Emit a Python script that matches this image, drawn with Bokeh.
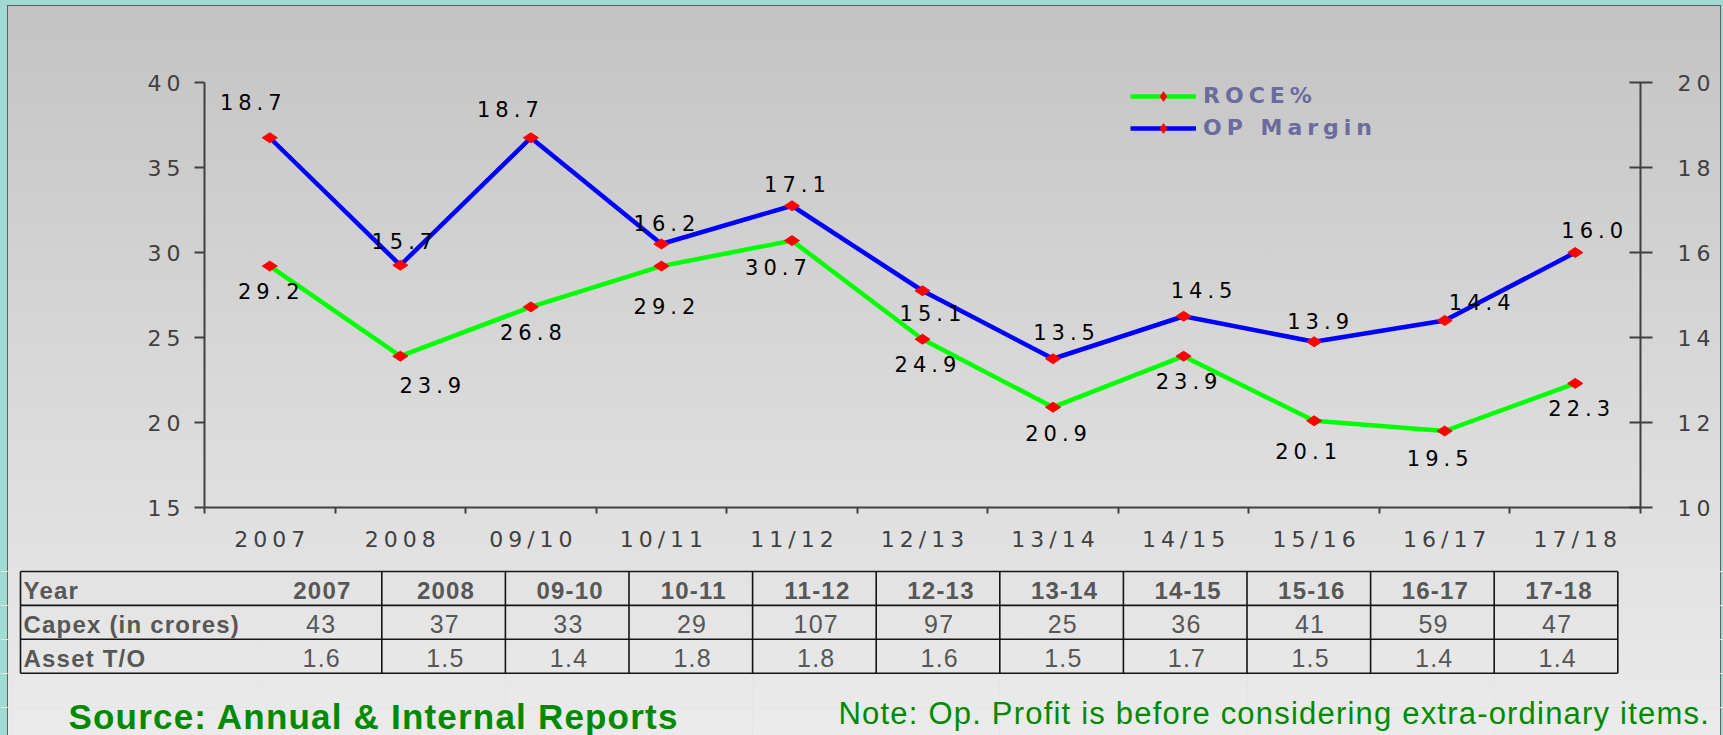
import numpy as np
from bokeh.plotting import figure
from bokeh.models import (Range1d, LinearAxis, FixedTicker, CustomJSTickFormatter,
                          ColumnDataSource, Legend, LegendItem, Label)
from bokeh.layouts import column
from bokeh.core.properties import value
from bokeh.embed import file_html
from bokeh.resources import INLINE

# ---------------- data ----------------
categories = ["2007", "2008", "09/10", "10/11", "11/12", "12/13",
              "13/14", "14/15", "15/16", "16/17", "17/18"]
roce = [29.2, 23.9, 26.8, 29.2, 30.7, 24.9, 20.9, 23.9, 20.1, 19.5, 22.3]
op_margin = [18.7, 15.7, 18.7, 16.2, 17.1, 15.1, 13.5, 14.5, 13.9, 14.4, 16.0]
left_ticks = [15, 20, 25, 30, 35, 40]
right_ticks = [10, 12, 14, 16, 18, 20]

table_years = ["2007", "2008", "09-10", "10-11", "11-12", "12-13",
               "13-14", "14-15", "15-16", "16-17", "17-18"]
capex = [43, 37, 33, 29, 107, 97, 25, 36, 41, 59, 47]
asset_to = [1.6, 1.5, 1.4, 1.8, 1.8, 1.6, 1.5, 1.7, 1.5, 1.4, 1.4]
row_labels = ["Year", "Capex (in crores)", "Asset T/O"]

source_text = "Source: Annual & Internal Reports"
note_text = "Note: Op. Profit is before considering extra-ordinary items."

# data-label nudges in screen pixels (label placement, not data)
roce_nudge_x = [-1, 30, 0, 3, -16, 3, 3, 3, -8, -7, 4]
roce_nudge_y = [25, 29, 25, 40, 26, 25, 26, 25, 30, 27, 25]
op_nudge_x = [-19, 2, -23, 3, 3, 8, 11, 18, 4, 35, 17]
op_nudge_y = [-36, -24, -29, -21, -22, 22, -27, -26, -21, -19, -23]

# ---------------- style ----------------
LS = 5            # letter spacing imitating the horizontally stretched chart picture
W = 1723
H_CHART = 560
H_TABLE = 175
AX = "#404040"
GREEN_TXT = "#008a00"
CHART_FONT = "DejaVu Sans"
FRAME_W = 1723 - 204 - 83

n = len(categories)
xs = [i + 0.5 for i in range(n)]


def spacing_shift(s):
    # extra width added by letter spacing, which Bokeh does not measure
    return (len(s) - 1) * LS / 2


p = figure(width=W, height=H_CHART, x_range=Range1d(0, n),
           y_range=Range1d(left_ticks[0], left_ticks[-1]),
           output_backend="svg", toolbar_location=None,
           min_border_left=204, min_border_right=83,
           min_border_top=82, min_border_bottom=53)
p.extra_y_ranges = {"op": Range1d(right_ticks[0], right_ticks[-1])}
p.background_fill_alpha = 0
p.border_fill_alpha = 0
p.outline_line_color = None
p.xgrid.visible = False
p.ygrid.visible = False
p.styles = {"letter-spacing": f"{LS}px"}

# x axis: labels at category centres, ticks on category boundaries
label_ticks = [x - spacing_shift(c) * n / FRAME_W for x, c in zip(xs, categories)]
xa = p.xaxis[0]
xa.ticker = FixedTicker(ticks=label_ticks, minor_ticks=list(range(n + 1)))
xa.formatter = CustomJSTickFormatter(args=dict(labels=categories),
                                     code="return labels[Math.floor(tick)] || '';")
xa.major_tick_out = 0
xa.major_tick_in = 0
xa.minor_tick_out = 6
xa.minor_tick_in = 0
xa.minor_tick_line_color = AX
xa.minor_tick_line_width = 2
xa.axis_line_color = AX
xa.axis_line_width = 2
xa.major_label_text_font = CHART_FONT
xa.major_label_text_font_size = "22px"
xa.major_label_text_color = AX
xa.major_label_standoff = 13

ya = p.yaxis[0]
ya.ticker = FixedTicker(ticks=left_ticks)
ya.major_tick_out = 10
ya.major_tick_in = 0
ya.minor_tick_out = 0
ya.minor_tick_in = 0
ya.major_tick_line_color = AX
ya.major_tick_line_width = 2
ya.axis_line_color = AX
ya.axis_line_width = 2
ya.major_label_text_font = CHART_FONT
ya.major_label_text_font_size = "22px"
ya.major_label_text_color = AX
ya.major_label_standoff = 19

ra = LinearAxis(y_range_name="op", ticker=FixedTicker(ticks=right_ticks))
ra.major_tick_out = 12
ra.major_tick_in = 11
ra.minor_tick_out = 0
ra.minor_tick_in = 0
ra.major_tick_line_color = AX
ra.major_tick_line_width = 2
ra.axis_line_color = AX
ra.axis_line_width = 2
ra.major_label_text_font = CHART_FONT
ra.major_label_text_font_size = "22px"
ra.major_label_text_color = AX
ra.major_label_standoff = 25
p.add_layout(ra, "right")

roce_lbl = [f"{v:.1f}" for v in roce]
op_lbl = [f"{v:.1f}" for v in op_margin]
src = ColumnDataSource(dict(
    x=xs, roce=roce, op=op_margin, roce_lbl=roce_lbl, op_lbl=op_lbl,
    roce_dx=[d - spacing_shift(s) for d, s in zip(roce_nudge_x, roce_lbl)],
    roce_dy=roce_nudge_y,
    op_dx=[d - spacing_shift(s) for d, s in zip(op_nudge_x, op_lbl)],
    op_dy=op_nudge_y,
))

g_line = p.line("x", "roce", source=src, line_color="#00ff00", line_width=4.5)
b_line = p.line("x", "op", source=src, y_range_name="op",
                line_color="#0000ff", line_width=4.5)
g_pts = p.scatter("x", "roce", source=src, marker="diamond", size=15, angle=np.pi / 2,
                  fill_color="#ff0000", line_color="#ff0000")
b_pts = p.scatter("x", "op", source=src, y_range_name="op", marker="diamond", size=15,
                  angle=np.pi / 2, fill_color="#ff0000", line_color="#ff0000")

p.text("x", "roce", text="roce_lbl", source=src, x_offset="roce_dx", y_offset="roce_dy",
       text_font=value(CHART_FONT), text_font_size="21px", text_color="black",
       text_align="center", text_baseline="middle")
p.text("x", "op", text="op_lbl", source=src, y_range_name="op",
       x_offset="op_dx", y_offset="op_dy",
       text_font=value(CHART_FONT), text_font_size="21px", text_color="black",
       text_align="center", text_baseline="middle")

legend = Legend(items=[LegendItem(label="ROCE%", renderers=[g_line, g_pts]),
                       LegendItem(label="OP Margin", renderers=[b_line, b_pts])],
                location=(926, 367), orientation="vertical",
                glyph_width=66, glyph_height=24, label_height=24, spacing=7,
                padding=0, margin=0, label_standoff=7,
                border_line_alpha=0, background_fill_alpha=0,
                label_text_font=CHART_FONT, label_text_font_style="bold",
                label_text_font_size="22px", label_text_color="#6b6b9e")
p.add_layout(legend, "center")

# ---------------- table ----------------
col_px = 123.6
table_left = 20
first_col = 257.7
label_w = (first_col - table_left) / col_px
x_start = (0 - first_col) / col_px
row_px = 33.9
y_top = -11 / row_px
y_bot = y_top + H_TABLE / row_px

t = figure(width=W, height=H_TABLE,
           x_range=Range1d(x_start, x_start + W / col_px),
           y_range=Range1d(y_bot, y_top),
           output_backend="svg", toolbar_location=None,
           min_border_left=0, min_border_right=0, min_border_top=0, min_border_bottom=0,
           x_axis_location=None, y_axis_location=None)
t.background_fill_alpha = 0
t.border_fill_alpha = 0
t.outline_line_color = None
t.styles = {"letter-spacing": "1.2px"}

for fig in (p, t):
    if "frame_align" in fig.properties():
        fig.frame_align = False

nrows = len(row_labels)
hy = list(range(nrows + 1))
t.segment(x0=[-label_w] * len(hy), x1=[n] * len(hy), y0=hy, y1=hy,
          line_color="#151515", line_width=1.6)
vx = [-label_w] + list(range(1, n + 1))
t.segment(x0=vx, x1=vx, y0=[0] * len(vx), y1=[nrows] * len(vx),
          line_color="#151515", line_width=1.6)

TXT = "#575757"
t.text(x=[-label_w] * nrows, y=[r + 0.5 for r in range(nrows)], text=row_labels,
       x_offset=3, y_offset=2, text_font=value("Liberation Sans"), text_font_style="bold",
       text_font_size="24px", text_color=TXT, text_align="left", text_baseline="middle")
t.text(x=xs, y=[0.5] * n, text=table_years, y_offset=2,
       text_font=value("Liberation Sans"), text_font_style="bold",
       text_font_size="24px", text_color=TXT, text_align="center", text_baseline="middle")
t.text(x=xs, y=[1.5] * n, text=[str(v) for v in capex], y_offset=2,
       text_font=value("Liberation Sans"), text_font_size="25px", text_color=TXT,
       text_align="center", text_baseline="middle")
t.text(x=xs, y=[2.5] * n, text=[f"{v:.1f}" for v in asset_to], y_offset=2,
       text_font=value("Liberation Sans"), text_font_size="25px", text_color=TXT,
       text_align="center", text_baseline="middle")

t.add_layout(Label(x=68, y=19, x_units="screen", y_units="screen", text=source_text,
                   text_font="Liberation Sans", text_font_style="bold",
                   text_font_size="35px", text_color=GREEN_TXT,
                   text_baseline="alphabetic"))
t.add_layout(Label(x=838, y=22, x_units="screen", y_units="screen", text=note_text,
                   text_font="Liberation Sans", text_font_size="31px",
                   text_color=GREEN_TXT, text_baseline="alphabetic"))

panel_bg = ", ".join([
    "linear-gradient(#5f5f5f,#5f5f5f) 7px 5px / 1px 730px no-repeat",
    "linear-gradient(#5f5f5f,#5f5f5f) 7px 5px / 1714px 1px no-repeat",
    "linear-gradient(#5f5f5f,#5f5f5f) 1720px 5px / 1px 730px no-repeat",
    "linear-gradient(180deg, #c3c3c3 0%, #d6d6d6 45%, #ebebeb 100%) 8px 6px / 1712px 729px no-repeat",
    "#a0dad2",
])
layout = column(p, t, spacing=0, styles={"background": panel_bg})

open("out.html", "w").write(file_html(layout, INLINE))
